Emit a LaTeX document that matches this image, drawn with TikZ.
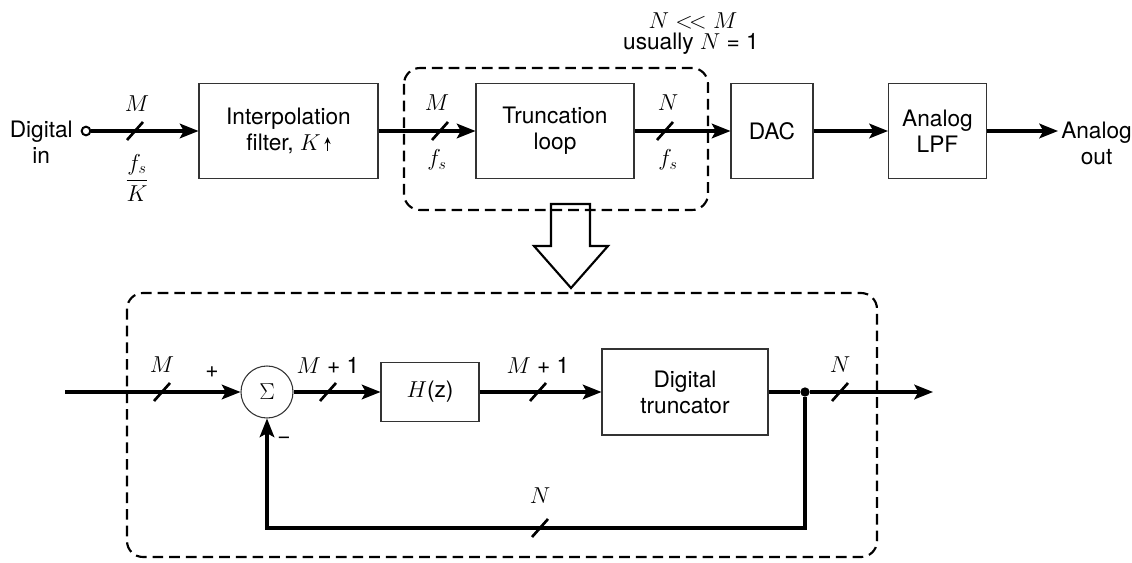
\documentclass[tikz,border=0pt]{standalone}
\usepackage{fontspec}
\setmainfont{TeX Gyre Heros}
\usetikzlibrary{arrows.meta}
\begin{document}
\begin{tikzpicture}[x=0.75pt,y=-0.75pt,font=\fontsize{17}{19.5}\selectfont]
		\tikzstyle{bloc}=[draw=black!80, line width=0.8pt, align=center, minimum height=71.25pt]
		\tikzstyle{fil}=[line width=2.3pt, -{Stealth[length=14pt,width=11pt,inset=3pt]}]
		\tikzstyle{trait}=[line width=2pt]
		\tikzstyle{cadre}=[line width=1.6pt, dash pattern=on 8pt off 4.5pt, rounded corners=12pt]
		\tikzstyle{etiq}=[inner sep=0pt]
		\useasboundingbox (0,0) rectangle (1132,563);
		% chaine du haut
		\node[etiq, align=center, anchor=east] (din) at (73,142) {Digital\\in};
		\node[circle, draw, line width=1.5pt, minimum size=6.5pt, inner sep=0pt] (entree) at (86,131) {};
		\node[bloc, minimum width=134.25pt] (interp) at (288.5,131) {Interpolation\\filter, $K$\,\tikz[baseline=0pt]\draw[line width=0.9pt,-{Stealth[length=5pt,width=4.5pt]}] (0,0) -- (0,10pt);};
		\node[bloc, minimum width=118.5pt] (trunc) at (555,131) {Truncation\\loop};
		\node[bloc, minimum width=61.5pt] (dac) at (772,131) {DAC};
		\node[bloc, minimum width=73.5pt] (lpf) at (937.5,131) {Analog\\LPF};
		\node[etiq, align=center, anchor=west] (aout) at (1061,143) {Analog\\out};
		\coordinate (sortie) at (1058,131);
		\draw[fil] (entree) -- (interp);
		\draw[fil] (interp) -- (trunc);
		\draw[fil] (trunc) -- (dac);
		\draw[fil] (dac) -- (lpf);
		\draw[fil] (lpf) -- (sortie);
		\node[etiq] (m1) at (137,104) {$M$};
		\node[etiq] (fk) at (137,178) {$\displaystyle\frac{f_s}{K}$};
		\node[etiq] (m2) at (437,103) {$M$};
		\node[etiq] (fs2) at (437,160) {$f_s$};
		\node[etiq] (n2) at (668,103) {$N$};
		\node[etiq] (fs3) at (668,160) {$f_s$};
		\node[etiq] (nm) at (693,21) {$N \mathrel{<\!<} M$};
		\node[etiq] (usu) at (691,44) {usually $N$ = 1};
		% zone de la boucle
		\draw[cadre] (404,68) rectangle (708,210);
		\draw[line width=1.6pt] (551,204) -- (590,204) -- (590,246) -- (608,246) -- (571,288) -- (534,246) -- (551,246) -- cycle;
		% boucle detaillee
		\draw[cadre] (127,293) rectangle (877,557);
		\coordinate (bin) at (65,392);
		\node[circle, draw=black!80, line width=0.8pt, minimum size=39pt, inner sep=0pt] (sigma) at (267,392) {$\Sigma$};
		\node[bloc, minimum width=73.5pt, minimum height=44.25pt] (hz) at (430,392) {$H$(z)};
		\node[bloc, minimum width=124.5pt, minimum height=64.5pt] (dtr) at (685,392) {Digital\\truncator};
		\node[circle, fill, minimum size=7pt, inner sep=0pt] (noeud) at (805,392) {};
		\coordinate (bout) at (933,392);
		\coordinate (bas) at (805,528);
		\coordinate (coin) at (267,528);
		\draw[fil] (bin) -- (sigma);
		\draw[fil] (sigma) -- (hz);
		\draw[fil] (hz) -- (dtr);
		\draw[line width=2.3pt] (dtr) -- (noeud);
		\draw[fil] (noeud) -- (bout);
		\draw[fil] (noeud) -- (bas) -- (coin) -- (sigma);
		\node[etiq] (m3) at (162,365) {$M$};
		\node[etiq] (plus) at (212,372) {+};
		\node[etiq] (moins) at (284,440) {−};
		\node[etiq] (m4) at (328,365) {$M$ + 1};
		\node[etiq] (m5) at (538,365) {$M$ + 1};
		\node[etiq] (n3) at (840,365) {$N$};
		\node[etiq] (n4) at (540,496) {$N$};
		% barres de bus
		\foreach \x/\y in {135/131, 440/131, 665/131, 162/392, 328/392, 538/392, 840/392, 540/528}
			\draw[trait] (\x-8,\y+9) -- (\x+8,\y-9);
	\end{tikzpicture}
\end{document}
